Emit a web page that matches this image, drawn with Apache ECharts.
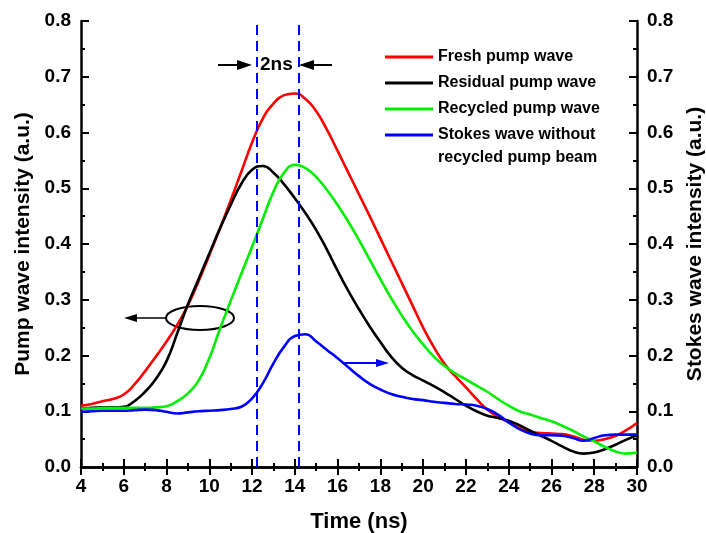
<!DOCTYPE html>
<html>
<head>
<meta charset="utf-8">
<script src="https://cdn.jsdelivr.net/npm/echarts@6/dist/echarts.min.js"></script>
<style>
  html, body { margin: 0; padding: 0; background: #fff; }
  #chart { width: 706px; height: 533px; }
</style>
</head>
<body>
<div id="chart"></div>
<script>
// time axis (ns), sampled every 0.5 ns
const time = [4, 4.5, 5, 5.5, 6, 6.5, 7, 7.5, 8, 8.5, 9, 9.5, 10, 10.5, 11, 11.5, 12, 12.5, 13, 13.5,
  14, 14.5, 15, 15.5, 16, 16.5, 17, 17.5, 18, 18.5, 19, 19.5, 20, 20.5, 21, 21.5, 22, 22.5, 23, 23.5,
  24, 24.5, 25, 25.5, 26, 26.5, 27, 27.5, 28, 28.5, 29, 29.5, 30];

const fresh = [0.110, 0.113, 0.118, 0.122, 0.130, 0.148, 0.172, 0.198, 0.225, 0.255, 0.290, 0.333, 0.380, 0.428, 0.478, 0.530, 0.582, 0.625, 0.652, 0.667,
  0.670, 0.660, 0.638, 0.605, 0.567, 0.528, 0.489, 0.450, 0.410, 0.370, 0.330, 0.290, 0.250, 0.215, 0.185, 0.163, 0.143, 0.122, 0.103, 0.090,
  0.080, 0.070, 0.063, 0.061, 0.060, 0.059, 0.055, 0.049, 0.047, 0.050, 0.056, 0.066, 0.079];

const residual = [0.105, 0.106, 0.107, 0.107, 0.108, 0.118, 0.135, 0.158, 0.190, 0.240, 0.292, 0.337, 0.383, 0.428, 0.470, 0.508, 0.533, 0.540, 0.528, 0.507,
  0.482, 0.455, 0.425, 0.390, 0.352, 0.316, 0.283, 0.252, 0.224, 0.198, 0.178, 0.165, 0.155, 0.145, 0.134, 0.122, 0.110, 0.100, 0.092, 0.088,
  0.083, 0.075, 0.065, 0.056, 0.047, 0.037, 0.028, 0.024, 0.026, 0.032, 0.040, 0.049, 0.057];

const recycled = [0.105, 0.105, 0.106, 0.106, 0.106, 0.106, 0.106, 0.107, 0.109, 0.118, 0.132, 0.155, 0.195, 0.248, 0.298, 0.347, 0.395, 0.445, 0.494, 0.528,
  0.542, 0.536, 0.520, 0.497, 0.470, 0.440, 0.407, 0.372, 0.337, 0.303, 0.272, 0.244, 0.220, 0.198, 0.181, 0.168, 0.157, 0.146, 0.135, 0.122,
  0.110, 0.100, 0.094, 0.088, 0.082, 0.074, 0.065, 0.055, 0.046, 0.036, 0.028, 0.024, 0.026];

const stokes = [0.099, 0.100, 0.101, 0.101, 0.101, 0.102, 0.103, 0.102, 0.099, 0.096, 0.098, 0.100, 0.101, 0.102, 0.104, 0.108, 0.123, 0.150, 0.186, 0.216,
  0.235, 0.238, 0.225, 0.210, 0.195, 0.179, 0.163, 0.149, 0.139, 0.131, 0.126, 0.122, 0.120, 0.117, 0.115, 0.113, 0.112, 0.110, 0.104, 0.094,
  0.080, 0.068, 0.060, 0.057, 0.057, 0.056, 0.052, 0.047, 0.052, 0.057, 0.058, 0.058, 0.058];

// dashed markers (ns)
const markerTimes = [12.2, 14.2];

const names = ["Fresh pump wave", "Residual pump wave", "Recycled pump wave", "Stokes wave without recycled pump beam"];
const colors = ["#ff0000", "#000000", "#00ee00", "#0000ff"];

const FONT = "Liberation Sans, Arial, sans-serif";

function pairs(ys) {
  return time.map((t, i) => [t, ys[i]]);
}

const chart = echarts.init(document.getElementById("chart"));

const axisLineStyle = { color: "#000", width: 2.5 };
const tickStyle = { show: true, inside: true, length: 8, lineStyle: { color: "#000", width: 2 } };
const minorStyle = { show: true, splitNumber: 2, length: 4, lineStyle: { color: "#000", width: 2 } };
const labelStyle = { color: "#000", fontFamily: FONT, fontWeight: "bold", fontSize: 19 };
const nameStyle = { color: "#000", fontFamily: FONT, fontWeight: "bold", fontSize: 21 };

function yAxis(pos, name) {
  return {
    type: "value",
    position: pos,
    min: 0,
    max: 0.8,
    interval: 0.1,
    name: name,
    nameLocation: "middle",
    nameGap: 45,
    nameTextStyle: nameStyle,
    axisLine: { show: true, lineStyle: axisLineStyle },
    axisTick: tickStyle,
    minorTick: minorStyle,
    splitLine: { show: false },
    axisLabel: Object.assign({ margin: 10, formatter: (v) => v.toFixed(1) }, labelStyle),
  };
}

chart.setOption({
  backgroundColor: "#fff",
  animation: false,
  grid: { left: 81, right: 69, top: 21, bottom: 66, outerBoundsMode: "none", containLabel: false },
  legend: {
    orient: "vertical",
    left: 385,
    top: 44,
    padding: 0,
    itemGap: 0,
    itemWidth: 48,
    itemHeight: 3,
    icon: "rect",
    data: names,
    formatter: (n) => (n === names[3] ? "Stokes wave without" : n),
    textStyle: { color: "#000", fontFamily: FONT, fontWeight: "bold", fontSize: 16, lineHeight: 26 },
  },
  xAxis: [
    {
      type: "value",
      min: 4,
      max: 30,
      interval: 2,
      name: "Time (ns)",
      nameLocation: "middle",
      nameGap: 44,
      nameTextStyle: Object.assign({}, nameStyle, { fontSize: 22 }),
      axisLine: { show: true, lineStyle: axisLineStyle },
      axisTick: tickStyle,
      minorTick: minorStyle,
      splitLine: { show: false },
      axisLabel: Object.assign({ margin: 10 }, labelStyle),
    },
    {
      type: "value",
      position: "top",
      min: 4,
      max: 30,
      interval: 2,
      axisLine: { show: true, lineStyle: axisLineStyle },
      axisTick: tickStyle,
      minorTick: minorStyle,
      splitLine: { show: false },
      axisLabel: { show: false },
    },
  ],
  yAxis: [
    yAxis("left", "Pump wave intensity (a.u.)"),
    Object.assign(yAxis("right", "Stokes wave intensity (a.u.)"), { nameGap: 46 }),
  ],
  series: [fresh, residual, recycled, stokes].map((ys, i) => ({
    name: names[i],
    type: "line",
    yAxisIndex: i === 3 ? 1 : 0,
    data: pairs(ys),
    smooth: 0.5,
    symbol: "none",
    color: colors[i],
    lineStyle: { width: 2.6, color: colors[i] },
    z: i === 3 ? 3 : 2,
    markLine: i === 3 ? {
      silent: true,
      symbol: "none",
      label: { show: false },
      lineStyle: { color: "#0000ff", width: 2, type: [10, 6] },
      data: markerTimes.map((t) => ({ xAxis: t })),
    } : undefined,
  })),
  graphic: [
    // second line of the last legend entry
    { type: "text", left: 438, top: 150, style: { text: "recycled pump beam", fill: "#000", font: "bold 16px " + FONT } },
    // "2ns" label with arrows
    { type: "text", left: 260, top: 55, style: { text: "2ns", fill: "#000", font: "bold 19px " + FONT } },
    { type: "line", shape: { x1: 218, y1: 65, x2: 242, y2: 65 }, style: { stroke: "#000", lineWidth: 2 } },
    { type: "polygon", shape: { points: [[252, 65], [237, 60], [237, 70]] }, style: { fill: "#000" } },
    { type: "line", shape: { x1: 310, y1: 65, x2: 332, y2: 65 }, style: { stroke: "#000", lineWidth: 2 } },
    { type: "polygon", shape: { points: [[299, 65], [314, 60], [314, 70]] }, style: { fill: "#000" } },
    // ellipse + left arrow for pump axis
    { type: "ellipse", shape: { cx: 200, cy: 318, rx: 34, ry: 12 }, style: { fill: "none", stroke: "#000", lineWidth: 2 } },
    { type: "line", shape: { x1: 134, y1: 318, x2: 166, y2: 318 }, style: { stroke: "#000", lineWidth: 1.5 } },
    { type: "polygon", shape: { points: [[124, 318], [137, 314], [137, 322]] }, style: { fill: "#000" } },
    // blue arrow toward Stokes axis
    { type: "line", shape: { x1: 342, y1: 363, x2: 378, y2: 363 }, style: { stroke: "#0000ff", lineWidth: 2 } },
    { type: "polygon", shape: { points: [[389, 363], [376, 359], [376, 367]] }, style: { fill: "#0000ff" } },
  ],
});
</script>
</body>
</html>
